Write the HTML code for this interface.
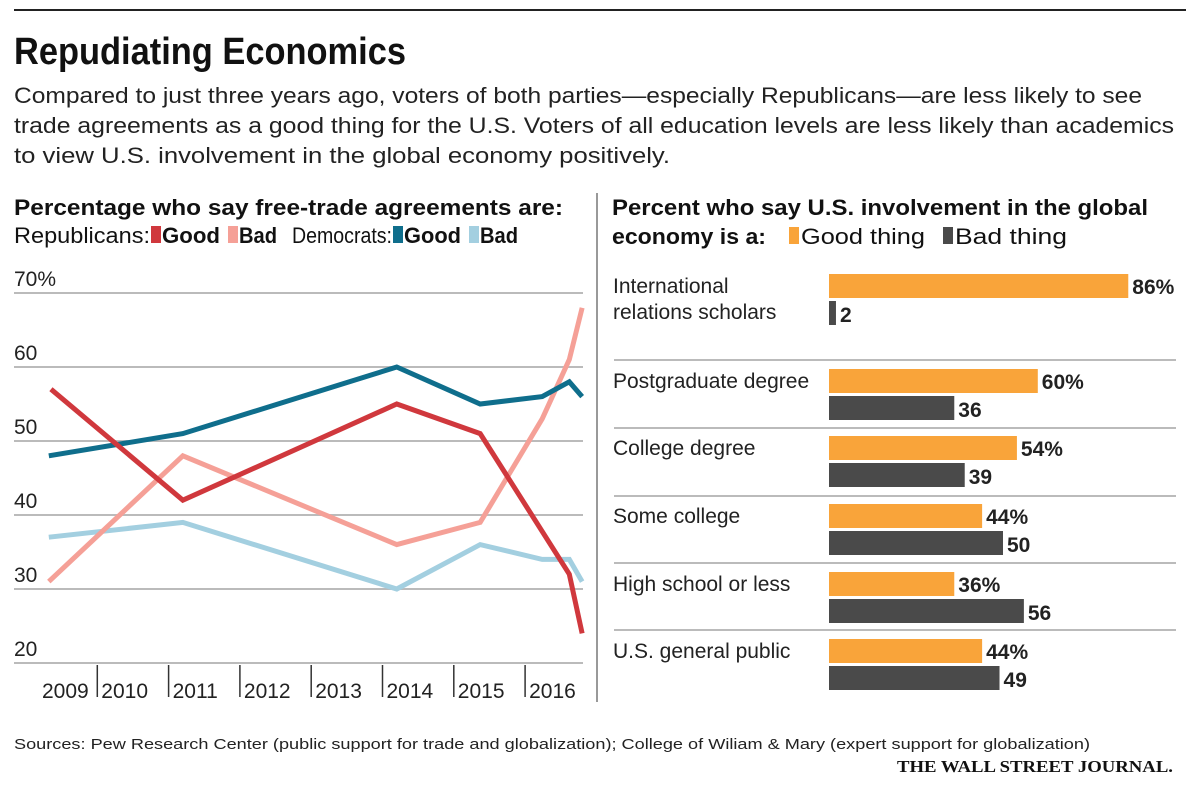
<!DOCTYPE html>
<html><head><meta charset="utf-8"><style>
body{margin:0;background:#fff;}
svg{display:block;font-family:"Liberation Sans Narrow","Liberation Sans",sans-serif;}
</style></head><body>
<svg id="chart" width="1200" height="791" viewBox="0 0 1200 791" xmlns="http://www.w3.org/2000/svg">
<rect x="0" y="0" width="1200" height="791" fill="#fff"/>
<rect x="14" y="9" width="1172" height="2" fill="#222"/>
<text x="14" y="64" font-size="38" font-weight="bold" fill="#111" textLength="392" lengthAdjust="spacingAndGlyphs">Repudiating Economics</text>
<g font-family="Liberation Sans, sans-serif" font-size="22" fill="#222">
<text x="14" y="103" textLength="1128" lengthAdjust="spacingAndGlyphs">Compared to just three years ago, voters of both parties—especially Republicans—are less likely to see</text>
<text x="14" y="133" textLength="1160" lengthAdjust="spacingAndGlyphs">trade agreements as a good thing for the U.S. Voters of all education levels are less likely than academics</text>
<text x="14" y="163" textLength="656" lengthAdjust="spacingAndGlyphs">to view U.S. involvement in the global economy positively.</text>
</g>
<line x1="597" y1="193" x2="597" y2="702" stroke="#333" stroke-width="1"/>
<text x="14" y="215" font-size="22" font-weight="bold" fill="#111" textLength="549" lengthAdjust="spacingAndGlyphs">Percentage who say free-trade agreements are:</text>
<g font-size="22" fill="#111">
<text x="14" y="243" textLength="136" lengthAdjust="spacingAndGlyphs">Republicans:</text>
<rect x="151" y="226" width="10" height="17" fill="#d0383d"/>
<text x="162" y="243" font-weight="bold" textLength="58" lengthAdjust="spacingAndGlyphs">Good</text>
<rect x="228" y="226" width="10" height="17" fill="#f5a097"/>
<text x="239" y="243" font-weight="bold" textLength="38" lengthAdjust="spacingAndGlyphs">Bad</text>
<text x="292" y="243" textLength="100" lengthAdjust="spacingAndGlyphs">Democrats:</text>
<rect x="393" y="226" width="10" height="17" fill="#0f6e8c"/>
<text x="404" y="243" font-weight="bold" textLength="57" lengthAdjust="spacingAndGlyphs">Good</text>
<rect x="469" y="226" width="10" height="17" fill="#a3cfe0"/>
<text x="480" y="243" font-weight="bold" textLength="38" lengthAdjust="spacingAndGlyphs">Bad</text>
</g>
<text x="612" y="215" font-size="22" font-weight="bold" fill="#111" textLength="536" lengthAdjust="spacingAndGlyphs">Percent who say U.S. involvement in the global</text>
<g font-size="22" fill="#111">
<text x="612" y="244" font-weight="bold" textLength="154" lengthAdjust="spacingAndGlyphs">economy is a:</text>
<rect x="789" y="227" width="10" height="17" fill="#f9a43a"/>
<text x="801" y="244" textLength="124" lengthAdjust="spacingAndGlyphs">Good thing</text>
<rect x="943" y="227" width="10" height="17" fill="#4a4a4a"/>
<text x="955" y="244" textLength="112" lengthAdjust="spacingAndGlyphs">Bad thing</text>
</g>
<g id="left"></g>
<g id="right"></g>
<text x="14" y="749" font-family="Liberation Sans, sans-serif" font-size="15" fill="#222" textLength="1076" lengthAdjust="spacingAndGlyphs">Sources: Pew Research Center (public support for trade and globalization); College of Wiliam &amp; Mary (expert support for globalization)</text>
<text x="1173" y="772" text-anchor="end" font-family="Liberation Serif, serif" font-size="17" font-weight="bold" fill="#111" textLength="276" lengthAdjust="spacingAndGlyphs">THE WALL STREET JOURNAL.</text>
</svg>
<script>
const yTicks=[20,30,40,50,60,70];
const years=[2009,2010,2011,2012,2013,2014,2015,2016];
const repGoodT=[2009.35,2011.2,2014.2,2015.37,2016.62,2016.8];
const repGoodV=[57,42,55,51,32,24];
const repBadT=[2009.32,2011.2,2014.2,2015.37,2016.24,2016.62,2016.8];
const repBadV=[31,48,36,39,53,61,68];
const demGoodT=[2009.32,2011.2,2014.2,2015.37,2016.24,2016.62,2016.8];
const demGoodV=[48,51,60,55,56,58,56];
const demBadT=[2009.32,2011.2,2014.2,2015.37,2016.24,2016.62,2016.8];
const demBadV=[37,39,30,36,34,34,31];

const cats=["International relations scholars","Postgraduate degree","College degree","Some college","High school or less","U.S. general public"];
const goodVals=[86,60,54,44,36,44];
const badVals=[2,36,39,50,56,49];

const NS="http://www.w3.org/2000/svg";
function mk(tag,attrs,parent){const e=document.createElementNS(NS,tag);for(const k in attrs)e.setAttribute(k,attrs[k]);parent.appendChild(e);return e;}
const L=document.getElementById('left');
const yS=v=>663-(v-20)*7.4;
const xS=t=>26+(t-2009)*71.3;
yTicks.forEach((v,i)=>{
  const g=mk('line',{x1:14,x2:583,y1:yS(v),y2:yS(v),stroke:'#bbb','stroke-width':2},L);
  
  
  const t=mk('text',{x:14,y:yS(v)-7,'font-size':21,fill:'#222'},L);
  t.textContent=v+(i===yTicks.length-1?'%':'');
  
  
});
years.forEach((yr,i)=>{
  if(i>0){const tk=mk('line',{x1:xS(yr),x2:xS(yr),y1:665,y2:697,stroke:'#333','stroke-width':1.5},L);
  
  }
  const t=mk('text',{x:xS(yr)+(i===0?16:4),y:698,'font-size':21,fill:'#222'},L);
  t.textContent=yr;
  
  
});
function line(T,V,color,name){
  const p=mk('polyline',{points:T.map((t,i)=>xS(t)+','+yS(V[i])).join(' '),fill:'none',stroke:color,'stroke-width':5,'stroke-linejoin':'miter'},L);
  
  
}
line(demBadT,demBadV,'#a3cfe0','line-democrats-bad');
line(repBadT,repBadV,'#f5a097','line-republicans-bad');
line(demGoodT,demGoodV,'#0f6e8c','line-democrats-good');
line(repGoodT,repGoodV,'#d0383d','line-republicans-good');

const R=document.getElementById('right');
const bx=829, sc=3.48;
const goodTop=[274,369,436,504,572,639];
[360,428,496,563,630].forEach(y=>{
  const s=mk('line',{x1:614,x2:1176,y1:y,y2:y,stroke:'#bbb','stroke-width':2},R);
  
  
});
cats.forEach((c,i)=>{
  const top=goodTop[i];
  const lab=mk('text',{x:613,y:top+19,'font-size':21,fill:'#222'},R);
  
  
  if(i===0){lab.textContent='International';const l2=mk('text',{x:613,y:top+45,'font-size':21,fill:'#222'},R);l2.textContent='relations scholars';
    
    }
  else lab.textContent=c;
  const g=mk('rect',{x:bx,y:top,width:goodVals[i]*sc,height:24,fill:'#f9a43a'},R);
  
  
  const gt=mk('text',{x:bx+goodVals[i]*sc+4,y:top+20,'font-size':21,'font-weight':'bold',fill:'#222'},R);
  gt.textContent=goodVals[i]+'%';
  
  
  const b=mk('rect',{x:bx,y:top+27,width:badVals[i]*sc,height:24,fill:'#4a4a4a'},R);
  
  
  const bt=mk('text',{x:bx+badVals[i]*sc+4,y:top+48,'font-size':21,'font-weight':'bold',fill:'#222'},R);
  bt.textContent=badVals[i];
  
  
});
</script>
</body></html>
